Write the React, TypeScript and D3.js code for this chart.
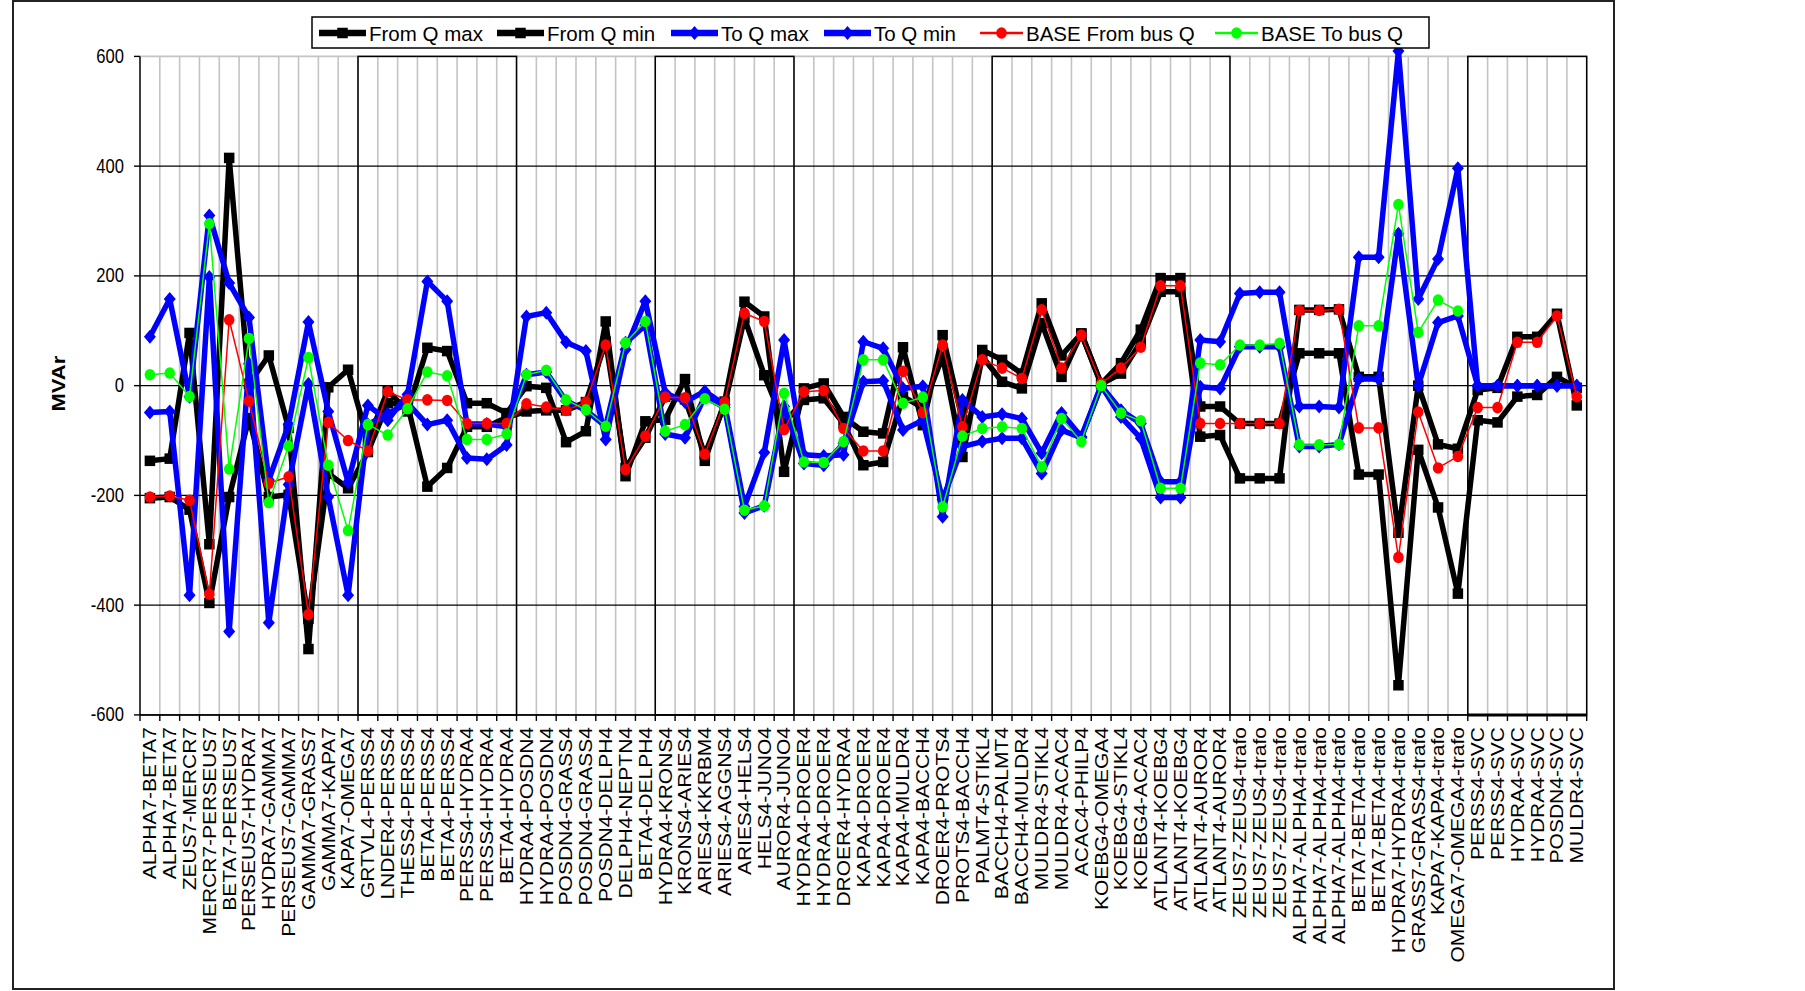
import React from 'react';
import * as d3 from 'd3';

// branch / element names along the x axis
const categories = [
  'ALPHA7-BETA7', 'ALPHA7-BETA7', 'ZEUS7-MERCR7', 'MERCR7-PERSEUS7', 'BETA7-PERSEUS7',
  'PERSEUS7-HYDRA7', 'HYDRA7-GAMMA7', 'PERSEUS7-GAMMA7', 'GAMMA7-GRASS7', 'GAMMA7-KAPA7',
  'KAPA7-OMEGA7', 'GRTVL4-PERSS4', 'LNDER4-PERSS4', 'THESS4-PERSS4', 'BETA4-PERSS4',
  'BETA4-PERSS4', 'PERSS4-HYDRA4', 'PERSS4-HYDRA4', 'BETA4-HYDRA4', 'HYDRA4-POSDN4',
  'HYDRA4-POSDN4', 'POSDN4-GRASS4', 'POSDN4-GRASS4', 'POSDN4-DELPH4', 'DELPH4-NEPTN4',
  'BETA4-DELPH4', 'HYDRA4-KRONS4', 'KRONS4-ARIES4', 'ARIES4-KKRBM4', 'ARIES4-AGGNS4',
  'ARIES4-HELS4', 'HELS4-JUNO4', 'AUROR4-JUNO4', 'HYDRA4-DROER4', 'HYDRA4-DROER4',
  'DROER4-HYDRA4', 'KAPA4-DROER4', 'KAPA4-DROER4', 'KAPA4-MULDR4', 'KAPA4-BACCH4',
  'DROER4-PROTS4', 'PROTS4-BACCH4', 'PALMT4-STIKL4', 'BACCH4-PALMT4', 'BACCH4-MULDR4',
  'MULDR4-STIKL4', 'MULDR4-ACAC4', 'ACAC4-PHILP4', 'KOEBG4-OMEGA4', 'KOEBG4-STIKL4',
  'KOEBG4-ACAC4', 'ATLANT4-KOEBG4', 'ATLANT4-KOEBG4', 'ATLANT4-AUROR4', 'ATLANT4-AUROR4',
  'ZEUS7-ZEUS4-trafo', 'ZEUS7-ZEUS4-trafo', 'ZEUS7-ZEUS4-trafo', 'ALPHA7-ALPHA4-trafo',
  'ALPHA7-ALPHA4-trafo', 'ALPHA7-ALPHA4-trafo', 'BETA7-BETA4-trafo', 'BETA7-BETA4-trafo',
  'HYDRA7-HYDRA4-trafo', 'GRASS7-GRASS4-trafo', 'KAPA7-KAPA4-trafo', 'OMEGA7-OMEGA4-trafo',
  'PERSS4-SVC', 'PERSS4-SVC', 'HYDRA4-SVC', 'HYDRA4-SVC', 'POSDN4-SVC', 'MULDR4-SVC',
];

const fromQMax = [
  -137, -133, 96, -289, 415, 3, 55, -77, -480, -3,
  29, -100, -9, -47, 69, 63, -32, -32, -50, -1,
  -4, -103, -83, 117, -165, -65, -62, 12, -137, -29,
  153, 126, -157, -5, 4, -57, -84, -87, 70, -72,
  92, -63, 65, 47, 22, 150, 55, 95, 3, 41,
  102, 196, 196, -38, -38, -69, -69, -69, 59, 59,
  59, -162, -162, -546, -117, -222, -379, -63, -67, -20,
  -17, 16, -4,
];

const fromQMin = [
  -205, -203, -226, -396, -203, -59, -203, -199, -425, -160,
  -187, -121, -32, -35, -184, -150, -75, -75, -58, -47,
  -45, -45, -30, 80, -150, -95, -20, -25, -125, -35,
  123, 19, -69, -26, -23, -69, -145, -139, -20, -40,
  53, -130, 53, 7, -5, 114, 16, 95, 3, 22,
  80, 171, 171, -93, -90, -169, -169, -169, 138, 138,
  139, 16, 16, -268, 0, -107, -115, -8, -4, 89,
  89, 131, -36,
];

const toQMax = [
  89, 158, -20, 310, 187, 124, -172, -71, 116, -47,
  -176, -36, -63, -16, 190, 154, -70, -70, -75, 20,
  25, -28, -45, -74, 78, 110, -88, -95, -20, -40,
  -232, -219, -38, -142, -145, -105, 7, 9, -81, -63,
  -208, -111, -102, -96, -96, -160, -81, -95, 0, -57,
  -96, -204, -204, -2, -5, 71, 71, 71, -111, -111,
  -107, 12, 12, 277, 0, 115, 127, 0, 0, 0,
  0, 0, 0,
];

const toQMin = [
  -49, -47, -382, 198, -448, 40, -432, -180, 3, -203,
  -382, -71, -51, -32, -71, -63, -132, -134, -108, 126,
  133, 79, 63, -98, 66, 154, -13, -30, -10, -35,
  -220, -122, 83, -126, -128, -126, 80, 68, -5, -1,
  -239, -26, -57, -52, -60, -123, -50, -93, 0, -45,
  -69, -175, -175, 83, 80, 168, 170, 170, -38, -38,
  -40, 234, 234, 610, 158, 231, 396, 0, 0, 0,
  0, 0, 0,
];

const baseFromBusQ = [
  -203, -201, -209, -380, 120, -28, -178, -166, -417, -67,
  -100, -119, -11, -26, -26, -27, -69, -69, -69, -33,
  -39, -45, -30, 74, -153, -92, -21, -22, -125, -30,
  132, 117, -80, -11, -9, -78, -119, -119, 26, -49,
  74, -75, 47, 32, 13, 138, 32, 92, 4, 32,
  70, 182, 182, -69, -69, -69, -69, -69, 137, 137,
  139, -77, -77, -313, -48, -150, -129, -40, -40, 79,
  79, 127, -20,
];

const baseToBusQ: (number | null)[] = [
  20, 23, -20, 295, -152, 86, -213, -110, 51, -145,
  -264, -71, -90, -42, 25, 18, -98, -98, -88, 20,
  28, -26, -44, -74, 78, 117, -83, -71, -24, -43,
  -227, -219, -14, -139, -140, -102, 47, 47, -32, -21,
  -221, -92, -78, -75, -78, -148, -60, -102, 0, -50,
  -64, -187, -187, 41, 38, 74, 74, 77, -108, -108,
  -107, 109, 109, 330, 97, 156, 136, null, null, null,
  null, null, null,
];

const yTicks = [600, 400, 200, 0, -200, -400, -600];
// groups framed with a black box: [first category, end category)
const boxSpans = [[11, 19], [26, 33], [43, 55], [67, 73]];

const series = [
  { name: 'From Q max', values: fromQMax, color: '#000000', width: 5.5, marker: 'square' },
  { name: 'From Q min', values: fromQMin, color: '#000000', width: 5.5, marker: 'square' },
  { name: 'To Q max', values: toQMax, color: '#0000ff', width: 5.5, marker: 'diamond' },
  { name: 'To Q min', values: toQMin, color: '#0000ff', width: 5.5, marker: 'diamond' },
  { name: 'BASE From bus Q', values: baseFromBusQ, color: '#ff0000', width: 1.5, marker: 'circle' },
  { name: 'BASE To bus Q', values: baseToBusQ, color: '#00ff00', width: 1.5, marker: 'circle' },
];

// legend item start x (line sample start)
const legendX = [319, 497, 671, 824, 980, 1215];

const FONT = '"Liberation Sans", Arial, sans-serif';

function Marker({ type, x, y, color }: { type: string; x: number; y: number; color: string }) {
  if (type === 'square') return <rect x={x - 5.25} y={y - 5.25} width={10.5} height={10.5} fill={color} />;
  if (type === 'diamond') return <path d={`M${x},${y - 7}L${x + 6},${y}L${x},${y + 7}L${x - 6},${y}Z`} fill={color} />;
  return <ellipse cx={x} cy={y} rx={5.3} ry={5.8} fill={color} />;
}

export default function App() {
  const left = 140, right = 1586.7, top = 56.4, bottom = 714.9;

  const x = d3.scaleBand<number>().domain(d3.range(categories.length)).range([left, right]);
  const y = d3.scaleLinear().domain([-600, 600]).range([bottom, top]);
  const cx = (i: number) => (x(i) as number) + x.bandwidth() / 2;
  const edge = (i: number) => (i >= categories.length ? right : (x(i) as number));

  const line = d3.line<number | null>()
    .defined(d => d != null)
    .x((_, i) => cx(i))
    .y(d => y(d as number));

  return (
    <div style={{ position: 'absolute', left: 0, top: 0 }}>
      <svg width={1805} height={991} style={{ display: 'block', background: '#fff' }} fontFamily={FONT}>
        <rect x={13} y={1} width={1601} height={988} fill="#fff" stroke="#222" strokeWidth={2} />

        {/* vertical grid */}
        {d3.range(1, categories.length + 1).map(i => (
          <line key={'vg' + i} x1={edge(i)} x2={edge(i)} y1={top} y2={bottom} stroke="#c4c4c4" strokeWidth={1.6} />
        ))}
        {/* horizontal grid */}
        {yTicks.map(t => (
          <line key={'hg' + t} x1={left} x2={right} y1={y(t)} y2={y(t)}
            stroke={t === 600 ? '#c4c4c4' : '#000'} strokeWidth={t === 600 ? 1.6 : 1.4} />
        ))}

        {/* grouping boxes */}
        {boxSpans.map(([a, b]) => (
          <rect key={'box' + a} x={edge(a)} y={top} width={edge(b) - edge(a)} height={bottom - top}
            fill="none" stroke="#000" strokeWidth={1.5} />
        ))}

        {/* axes */}
        <line x1={left} x2={left} y1={top} y2={bottom} stroke="#000" strokeWidth={1.5} />
        <line x1={left} x2={right} y1={bottom} y2={bottom} stroke="#000" strokeWidth={1.5} />
        {yTicks.map(t => (
          <line key={'yt' + t} x1={left - 6} x2={left} y1={y(t)} y2={y(t)} stroke="#000" strokeWidth={1.4} />
        ))}
        {d3.range(0, categories.length + 1).map(i => (
          <line key={'xt' + i} x1={edge(i)} x2={edge(i)} y1={bottom} y2={bottom + 6} stroke="#000" strokeWidth={1.4} />
        ))}
        <line x1={edge(67)} x2={right} y1={bottom} y2={bottom} stroke="#000" strokeWidth={3} />

        {yTicks.map(t => (
          <text key={'yl' + t} transform={`translate(124,${y(t)}) scale(0.85,1)`} textAnchor="end"
            dominantBaseline="central" fontSize={19.5} fill="#000">{t}</text>
        ))}
        {categories.map((c, i) => (
          <text key={'xl' + i} transform={`translate(${cx(i)},727) scale(0.85,1) rotate(-90)`} textAnchor="end"
            dominantBaseline="central" fontSize={21} fill="#000">{c}</text>
        ))}
        <text transform={`translate(59,${y(0) - 2}) scale(0.85,1) rotate(-90)`} textAnchor="middle"
          dominantBaseline="central" fontSize={22} fontWeight="bold" fill="#000">MVAr</text>

        {/* series */}
        {series.map(s => (
          <g key={s.name}>
            <path d={line(s.values) || ''} fill="none" stroke={s.color} strokeWidth={s.width} strokeLinejoin="round" />
            {s.values.map((v, i) => v == null ? null : (
              <Marker key={i} type={s.marker} x={cx(i)} y={y(v)} color={s.color} />
            ))}
          </g>
        ))}

        {/* legend */}
        <rect x={312} y={17} width={1117} height={31} fill="#fff" stroke="#000" strokeWidth={1.5} />
        {series.map((s, k) => {
          const lx = legendX[k];
          const len = s.width > 2 ? 47 : 43;
          return (
            <g key={'lg' + k}>
              <line x1={lx} x2={lx + len} y1={33} y2={33} stroke={s.color} strokeWidth={s.width + 1} />
              <Marker type={s.marker} x={lx + len / 2} y={33} color={s.color} />
              <text x={lx + len + 3} y={33} dominantBaseline="central" fontSize={20.5} fill="#000">{s.name}</text>
            </g>
          );
        })}
      </svg>
    </div>
  );
}
